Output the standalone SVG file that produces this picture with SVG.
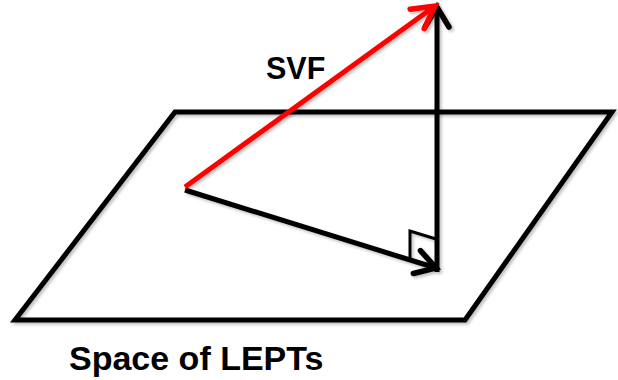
<svg xmlns="http://www.w3.org/2000/svg" width="618" height="380" viewBox="0 0 618 380">
<defs>
<filter id="sh" x="-10%" y="-10%" width="120%" height="120%">
<feDropShadow dx="2" dy="2" stdDeviation="1.5" flood-color="#000" flood-opacity="0.25"/>
</filter>
<marker id="hk" markerUnits="userSpaceOnUse" markerWidth="40" markerHeight="40" viewBox="-30 -20 40 40" refX="0" refY="0" orient="auto" overflow="visible">
<path d="M-20,-12 L0,0 L-20,12" fill="none" stroke="#000" stroke-width="5.5" stroke-linecap="round" stroke-linejoin="miter"/>
</marker>
<marker id="hr" markerUnits="userSpaceOnUse" markerWidth="40" markerHeight="40" viewBox="-30 -20 40 40" refX="0" refY="0" orient="auto" overflow="visible">
<path d="M-22,-12 L0,0 L-22,12" fill="none" stroke="#f00" stroke-width="5.5" stroke-linecap="round" stroke-linejoin="miter"/>
</marker>
<style>
.ln{fill:none;stroke:#000;stroke-width:5;stroke-linejoin:miter}
.txt{font-family:"Liberation Sans",Arial,sans-serif;font-weight:bold;fill:#000}
</style>
</defs>
<rect width="618" height="380" fill="#fff"/>
<g id="plane" filter="url(#sh)">
<path class="ln" d="M175,112 L612,112 L465,320 L15,320 Z"/>
</g>
<g id="connectors" filter="url(#sh)">
<path class="ln" d="M437,272 L437,7" marker-end="url(#hk)"/>
<path class="ln" d="M185,190 L436,268" marker-end="url(#hk)"/>
<path d="M410,259 L410,231 L436,239" fill="none" stroke="#000" stroke-width="3"/>
<path d="M185,187 L435,6" fill="none" stroke="#f00" stroke-width="5" marker-end="url(#hr)"/>
</g>
<g id="labels">
<text class="txt" x="266" y="79" font-size="30.5">SVF</text>
<text class="txt" x="69" y="370" font-size="34">Space of LEPTs</text>
</g>
</svg>
